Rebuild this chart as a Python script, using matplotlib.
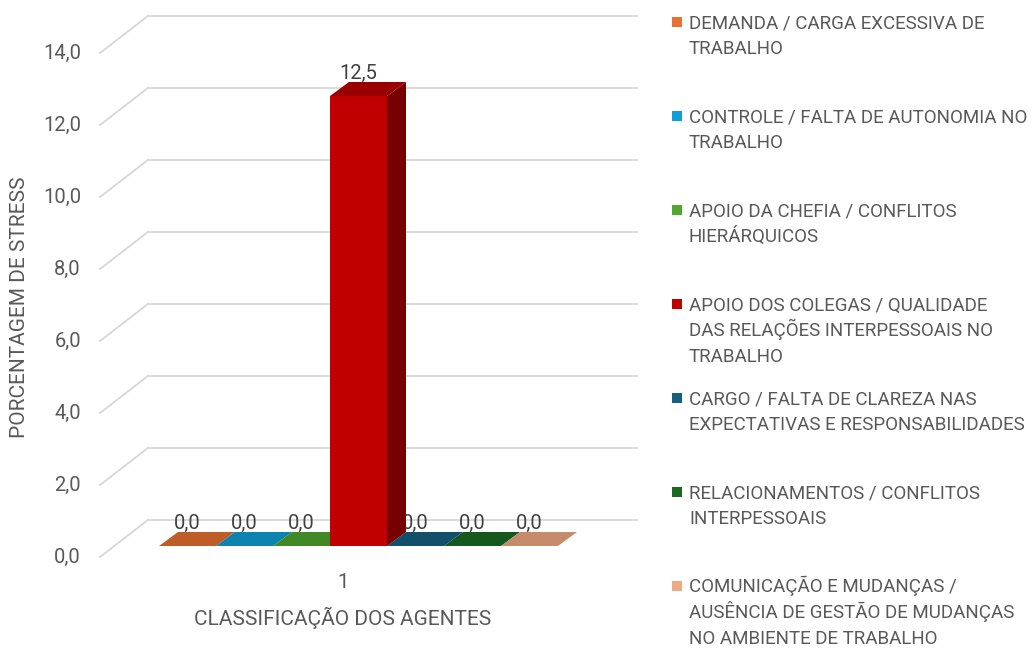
import matplotlib
matplotlib.use("Agg")
import matplotlib.pyplot as plt
from matplotlib.patches import Polygon, Rectangle
from matplotlib.colors import to_rgb

plt.rcParams['font.family'] = ['Roboto', 'DejaVu Sans']

# dados
series = [
    "DEMANDA / CARGA EXCESSIVA DE\nTRABALHO",
    "CONTROLE / FALTA DE AUTONOMIA NO\nTRABALHO",
    "APOIO DA CHEFIA / CONFLITOS\nHIERÁRQUICOS",
    "APOIO DOS COLEGAS / QUALIDADE\nDAS RELAÇÕES INTERPESSOAIS NO\nTRABALHO",
    "CARGO / FALTA DE CLAREZA NAS\nEXPECTATIVAS E RESPONSABILIDADES",
    "RELACIONAMENTOS / CONFLITOS\nINTERPESSOAIS",
    "COMUNICAÇÃO E MUDANÇAS /\nAUSÊNCIA DE GESTÃO DE MUDANÇAS\nNO AMBIENTE DE TRABALHO",
]
valores = [0.0, 0.0, 0.0, 12.5, 0.0, 0.0, 0.0]
cores = ["#E97132", "#0F9ED5", "#4EA72E", "#C00000", "#156082", "#196B24", "#F1A983"]
yticks = [0, 2, 4, 6, 8, 10, 12, 14]
categoria = "1"

W, H = 1033, 648
# escala em pixels: 1 slot = 57 px, 1 unidade = 36 px
X0, SLOT, Y0, UNIT = 159, 57, 546, 36
DX, DY = 19 / SLOT, 14 / UNIT          # profundidade das barras
TXT = "#595959"
GRID = "#D9D9D9"


def shade(c, f):
    r, g, b = to_rgb(c)
    return (r * f, g * f, b * f)


fig = plt.figure(figsize=(W / 100, H / 100), dpi=100)
ax = fig.add_axes([0, 0, 1, 1])
ax.set_xlim(-X0 / SLOT, (W - X0) / SLOT)
ax.set_ylim((Y0 - H) / UNIT, Y0 / UNIT)
ax.axis("off")

# grade (parede do fundo + diagonal lateral)
gx0, gx1 = (148 - X0) / SLOT, (637 - X0) / SLOT
gback = (Y0 - 520) / UNIT
fx, fback = (100 - X0) / SLOT, (Y0 - 557) / UNIT
for t in yticks:
    ax.plot([gx0, gx1], [t + gback, t + gback], color=GRID, lw=1.4, zorder=1)
    ax.plot([fx, gx0], [t + fback, t + gback], color=GRID, lw=1.4, zorder=1)
    ax.text((81 - X0) / SLOT, t + fback, f"{t:.1f}".replace(".", ","),
            ha="right", va="center", fontsize=14.5, color=TXT)

# barras 3D
for i, (v, c) in enumerate(zip(valores, cores)):
    top = [(i, v), (i + 1, v), (i + 1 + DX, v + DY), (i + DX, v + DY)]
    if v > 0:
        ax.add_patch(Polygon([(i, 0), (i + 1, 0), (i + 1, v), (i, v)],
                             closed=True, fc=c, ec="none", zorder=4))
        ax.add_patch(Polygon([(i + 1, 0), (i + 1, v), (i + 1 + DX, v + DY), (i + 1 + DX, DY)],
                             closed=True, fc=shade(c, 0.62), ec="none", zorder=4))
        ax.add_patch(Polygon(top, closed=True, fc=shade(c, 0.8), ec="none", zorder=4))
        z = 6
    else:
        ax.add_patch(Polygon(top, closed=True, fc=shade(c, 0.82), ec="none", zorder=2))
        z = 3
    ax.text(i + 0.5, v + 0.64, f"{v:.1f}".replace(".", ","), ha="center", va="center",
            fontsize=14.5, color="#404040", zorder=z)

# eixos
xc = (343 - X0) / SLOT
ax.text(xc, (Y0 - 583) / UNIT, categoria, ha="center", va="center",
        fontsize=14.5, color=TXT)
ax.text(xc, (Y0 - 618) / UNIT, "CLASSIFICAÇÃO DOS AGENTES",
        ha="center", va="center", fontsize=15, color=TXT)
ax.text((20 - X0) / SLOT, (Y0 - 307) / UNIT, "PORCENTAGEM DE STRESS", rotation=90,
        ha="center", va="center", fontsize=15, color=TXT)

# legenda (linhas com espaçamento fixo)
for i, (s, c) in enumerate(zip(series, cores)):
    ytop = 22 + 94 * i
    fig.patches.append(Rectangle((672 / W, 1 - (ytop + 5) / H), 10 / W, 10 / H,
                                 transform=fig.transFigure, fc=c, ec="none"))
    for k, linha in enumerate(s.split("\n")):
        fig.text(689 / W, 1 - (ytop + 6.5 + 25.5 * k) / H, linha, ha="left",
                 va="baseline", fontsize=13.5, color=TXT)

fig.savefig("out.png", dpi=100)
